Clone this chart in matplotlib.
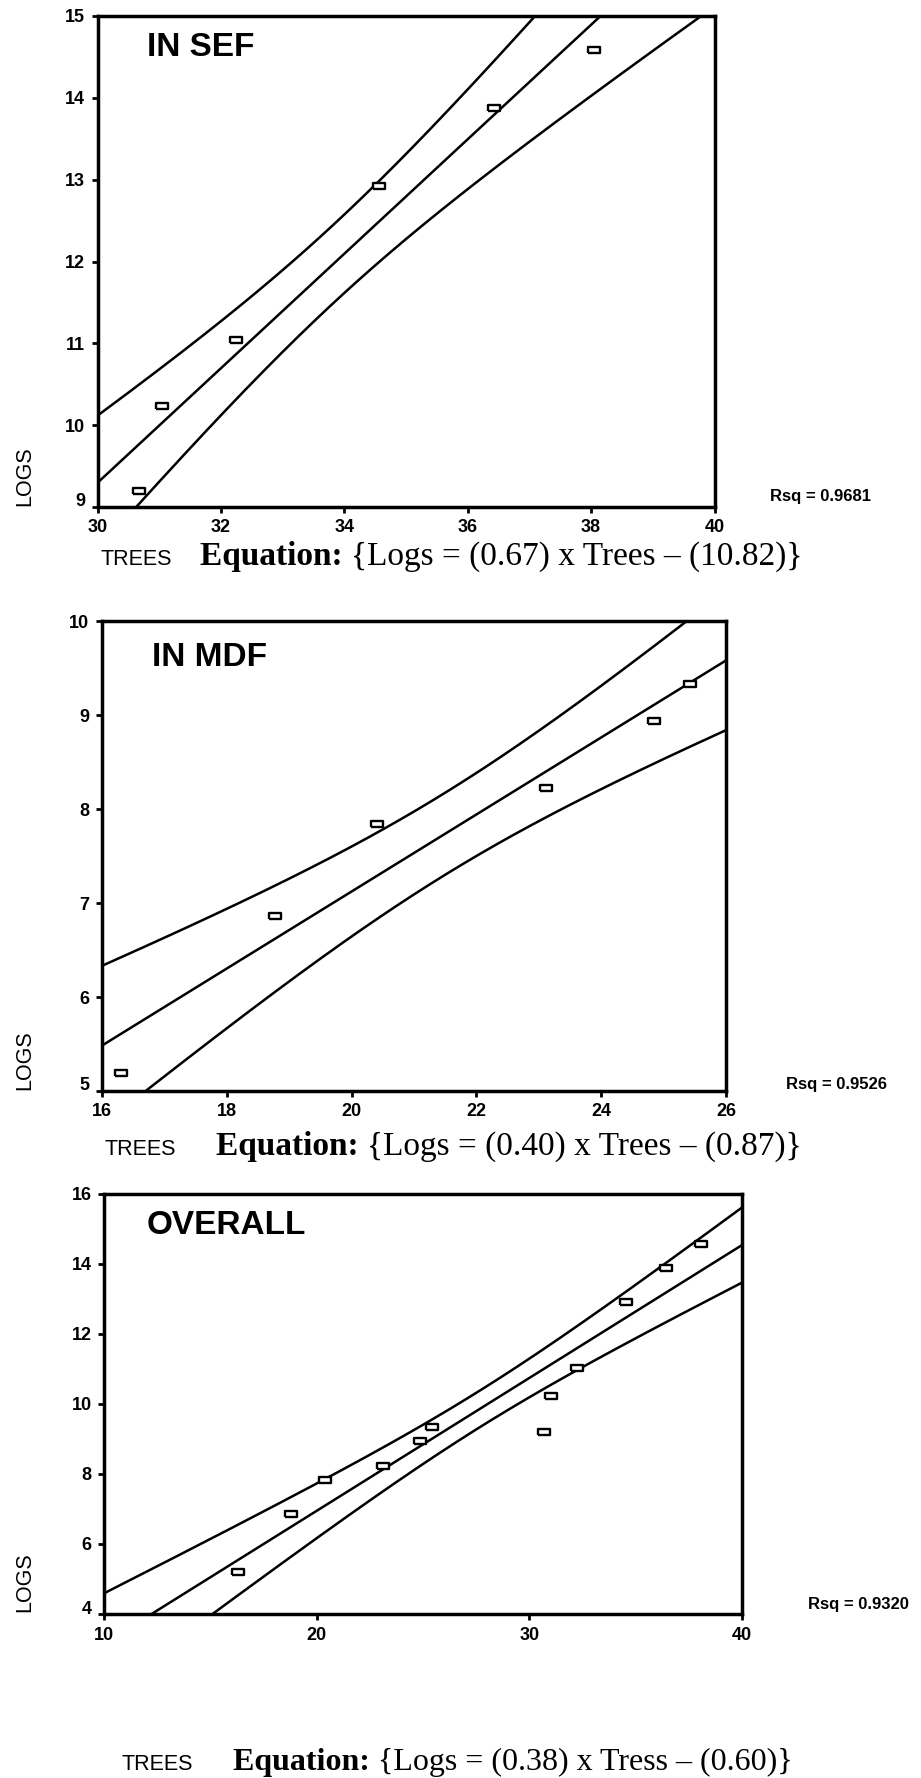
import numpy as np
import matplotlib
matplotlib.use("Agg")
import matplotlib.pyplot as plt
from matplotlib.transforms import ScaledTranslation

# ---------------- data ----------------
sef_trees = [30.67, 31.04, 32.25, 34.56, 36.42, 38.05]
sef_logs = [9.20, 10.24, 11.04, 12.92, 13.88, 14.58]

mdf_trees = [16.31, 18.77, 20.41, 23.12, 24.84, 25.43]
mdf_logs = [5.19, 6.86, 7.84, 8.23, 8.94, 9.33]

overall_trees = sef_trees + mdf_trees
overall_logs = sef_logs + mdf_logs

titles = ["IN SEF", "IN MDF", "OVERALL"]
rsq_labels = ["Rsq = 0.9681", "Rsq = 0.9526", "Rsq = 0.9320"]
equations = ["{Logs = (0.67) x Trees \u2013 (10.82)}",
             "{Logs = (0.40) x Trees \u2013 (0.87)}",
             "{Logs = (0.38) x Tress \u2013 (0.60)}"]
xticks = [[30, 32, 34, 36, 38, 40], [16, 18, 20, 22, 24, 26], [10, 20, 30, 40]]
yticks = [[9, 10, 11, 12, 13, 14, 15], [5, 6, 7, 8, 9, 10], [4, 6, 8, 10, 12, 14, 16]]

# t(0.975, df) for the 95% confidence band of the mean
T975 = {4: 2.776, 10: 2.228}

W, H = 921, 1778
fig = plt.figure(figsize=(W / 100, H / 100), dpi=100)
fig.patch.set_facecolor("white")

SANS = ["Liberation Sans", "DejaVu Sans"]
SERIF = ["Liberation Serif", "DejaVu Serif"]

# axes boxes in pixels: left, top, right, bottom
boxes = [(97.5, 16, 714.5, 507), (102, 621.5, 726, 1091), (104, 1194, 742, 1614)]
title_pos = [(147, 47), (152, 658), (147, 1225)]
logs_y = [476, 1060, 1582]
trees_pos = [(100, 565), (104, 1155), (121, 1770)]
eq_x = [200, 216, 233]
eq_size = [24, 24, 23]
rsq_pos = [(770, 496), (786, 1085), (808, 1605)]

datasets = [(sef_trees, sef_logs), (mdf_trees, mdf_logs), (overall_trees, overall_logs)]

rect = [(-1, -0.62), (1, -0.62), (1, 0.62), (-1, 0.62), (-1, -0.62)]


def fx(x):
    return x / W


def fy(y):
    return 1 - y / H


renderer = fig.canvas.get_renderer()
raise_first = ScaledTranslation(0, 7 / 100, fig.dpi_scale_trans)

for i, (xs, ys) in enumerate(datasets):
    l, t, r, b = boxes[i]
    ax = fig.add_axes([fx(l), fy(b), (r - l) / W, (b - t) / H])
    x = np.array(xs)
    y = np.array(ys)
    n = len(x)
    slope, icpt = np.polyfit(x, y, 1)
    resid = y - (slope * x + icpt)
    s = np.sqrt(np.sum(resid ** 2) / (n - 2))
    sxx = np.sum((x - x.mean()) ** 2)
    xl = (xticks[i][0], xticks[i][-1])
    xx = np.linspace(xl[0], xl[1], 300)
    fit = slope * xx + icpt
    half = T975[n - 2] * s * np.sqrt(1 / n + (xx - x.mean()) ** 2 / sxx)
    for curve in (fit, fit + half, fit - half):
        ax.plot(xx, curve, color="black", lw=1.8)
    ax.plot(x, y, linestyle="none", marker=rect, markersize=8,
            markerfacecolor="white", markeredgecolor="black", markeredgewidth=1.7,
            zorder=5)
    ax.set_xlim(*xl)
    ax.set_ylim(yticks[i][0], yticks[i][-1])
    ax.set_xticks(xticks[i])
    ax.set_yticks(yticks[i])
    for sp in ax.spines.values():
        sp.set_linewidth(2.5)
    ax.tick_params(direction="out", length=4, width=2, pad=5)
    for lab in ax.get_xticklabels() + ax.get_yticklabels():
        lab.set_family(SANS)
        lab.set_fontweight("bold")
        lab.set_fontsize(13)
    first = ax.get_yticklabels()[0]
    first.set_transform(first.get_transform() + raise_first)

    fig.text(fx(title_pos[i][0]), fy(title_pos[i][1]), titles[i], family=SANS,
             fontweight="bold", fontsize=24, ha="left", va="center")
    fig.text(fx(25), fy(logs_y[i]), "LOGS", family=SANS, fontsize=15.5,
             rotation=90, ha="center", va="center")
    fig.text(fx(trees_pos[i][0]), fy(trees_pos[i][1]), "TREES", family=SANS,
             fontsize=15.5, ha="left", va="baseline")
    eq1 = fig.text(fx(eq_x[i]), fy(trees_pos[i][1]), "Equation: ", family=SERIF,
                   fontweight="bold", fontsize=eq_size[i], ha="left", va="baseline")
    bb = eq1.get_window_extent(renderer=renderer)
    fig.text(bb.x1 / W, fy(trees_pos[i][1]), equations[i], family=SERIF,
             fontsize=eq_size[i], ha="left", va="baseline")
    fig.text(fx(rsq_pos[i][0]), fy(rsq_pos[i][1]), rsq_labels[i], family=SANS,
             fontweight="bold", fontsize=12, ha="left", va="center")

fig.savefig("out.png", dpi=100, facecolor="white")
